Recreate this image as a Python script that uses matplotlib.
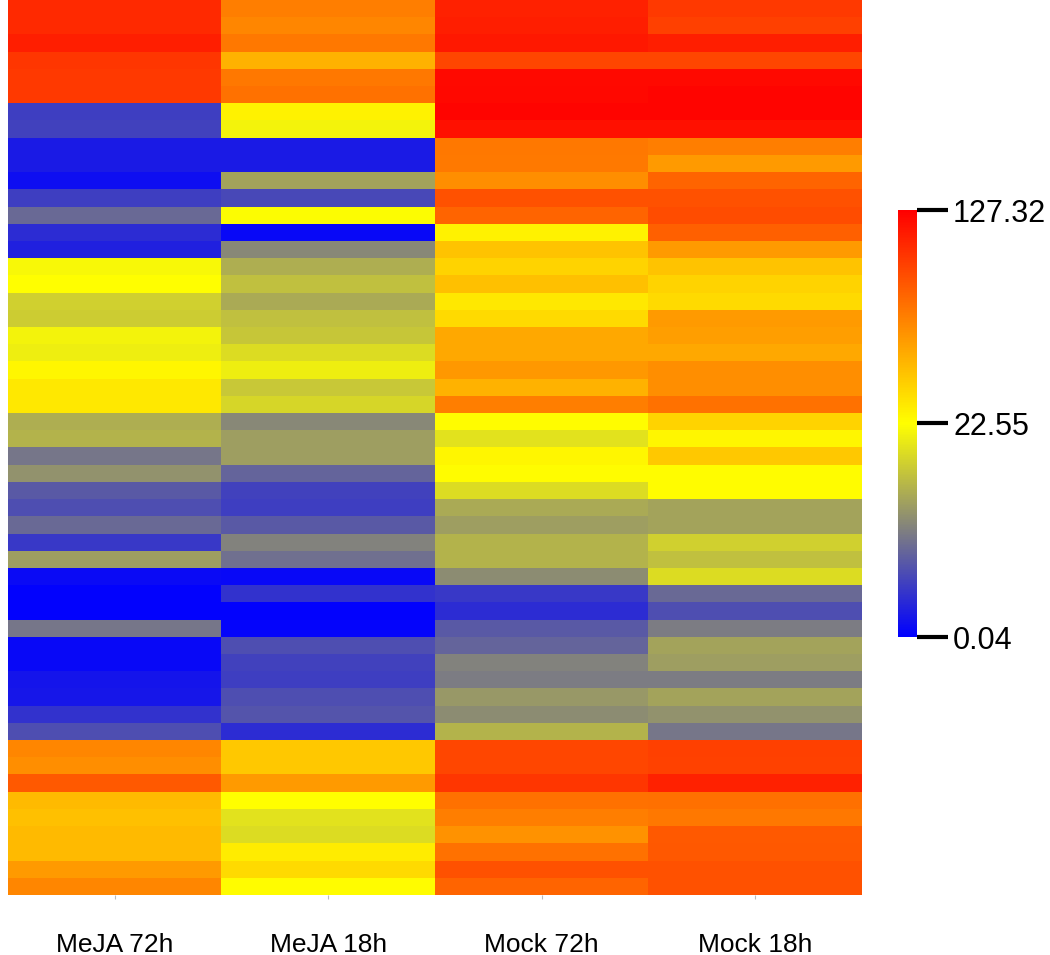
import numpy as np
import matplotlib
matplotlib.use("Agg")
import matplotlib.pyplot as plt
from matplotlib.colors import LinearSegmentedColormap, TwoSlopeNorm

plt.rcParams["font.family"] = ["Liberation Sans", "DejaVu Sans"]

# samples (columns) and expression values per gene (rows, top to bottom)
samples = ["MeJA 72h", "MeJA 18h", "Mock 72h", "Mock 18h"]

meja_72h = [110, 110, 115, 105, 103, 103, 5.5, 6, 2.5, 2.5, 1.3, 5.5, 9.5,
            4, 3, 22, 23, 18.5, 18, 21.5, 21, 26, 32, 32, 15.5, 16,
            10.5, 13, 8, 7, 9.5, 5, 14, 1, 0.3, 0.3, 10.5, 0.8, 0.8,
            1.8, 2, 4.5, 7, 72, 69, 90, 51, 48, 51, 51, 64, 72]
meja_18h = [75, 72, 78, 54, 78, 80, 28, 21.5, 2.5, 2.5, 14.5, 6.5, 22.3,
            0.8, 12, 15.5, 17, 15, 17, 17.5, 19.5, 21, 17.8, 19, 12, 14,
            14, 9, 6, 5.5, 8, 11.5, 10, 0.8, 4.5, 0.3, 0.5, 7, 6,
            5.5, 7, 7.5, 4, 45, 45, 64, 23, 20, 19.5, 30, 38, 24]
mock_72h = [113, 115, 117, 98, 123, 124, 125, 120, 78, 77, 69, 93, 86,
            28, 47, 40, 48, 32, 38, 58, 58, 65, 54, 75, 24, 20,
            26, 24, 19.5, 15, 14, 16, 16, 12.5, 5, 4, 8, 9, 11.5,
            11, 13.5, 12.5, 16, 98, 98, 105, 80, 75, 67, 80, 93, 86]
mock_18h = [103, 101, 115, 98, 123, 125, 125, 120, 75, 64, 86, 93, 96,
            88, 64, 47, 40, 38, 64, 62, 58, 69, 69, 80, 40, 26,
            45, 24, 24, 14.5, 14.5, 18.5, 17, 19.5, 9.5, 7, 11, 14.5, 14,
            11, 14.5, 13, 10.5, 101, 100, 113, 81, 78, 90, 91, 93, 93]

vmin, vcenter, vmax = 0.04, 22.55, 127.32
cbar_ticks = [0.04, 22.55, 127.32]

data = np.array([meja_72h, meja_18h, mock_72h, mock_18h]).T

cmap = LinearSegmentedColormap.from_list(
    "byr", [(0.0, "#0000ff"), (0.5, "#ffff00"), (1.0, "#ff0000")])
norm = TwoSlopeNorm(vmin=vmin, vcenter=vcenter, vmax=vmax)

fig = plt.figure(figsize=(10.5, 9.55), dpi=100)
ax = fig.add_axes([8 / 1050, 60 / 955, 854 / 1050, 895 / 955])
im = ax.imshow(data, cmap=cmap, norm=norm, aspect="auto",
               interpolation="nearest")
ax.set_xticks(range(len(samples)))
ax.set_xticklabels(samples, fontsize=19)
ax.tick_params(axis="x", length=3, color="#bbbbbb", pad=24)
ax.set_yticks([])
for s in ax.spines.values():
    s.set_visible(False)

cax = fig.add_axes([898 / 1050, 318 / 955, 19 / 1050, 427 / 955])
cb = fig.colorbar(im, cax=cax, ticks=cbar_ticks)
cb.outline.set_visible(False)
cb.ax.set_yticklabels(["0.04", "22.55", "127.32"])
cb.ax.tick_params(length=22, width=3, color="black", labelsize=22, pad=4)

fig.savefig("out.png", dpi=100)
